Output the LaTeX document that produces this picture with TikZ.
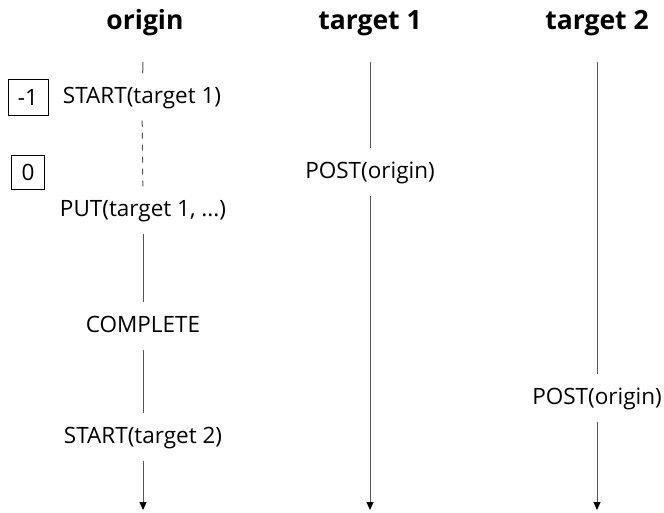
\documentclass[tikz,border=0pt]{standalone}
\usepackage{fontspec}
\setmainfont{Open Sans}
\usetikzlibrary{arrows.meta,positioning}
\definecolor{lifegray}{RGB}{85,85,85}
\tikzset{
  headlbl/.style={font=\fontsize{26.5}{30}\selectfont\bfseries},
  evlbl/.style={font=\fontsize{22.5}{26}\selectfont, inner sep=0pt,
    text height=17pt, text depth=5pt, minimum height=47pt},
  epochbox/.style={draw, line width=0.9pt, font=\fontsize{22.5}{26}\selectfont,
    inner sep=0pt, text height=16pt, text depth=0pt},
  life/.style={draw=lifegray, line width=1pt},
  lifearr/.style={life, -{Triangle[length=8pt, width=7pt, black]}},
}
\begin{document}
\begin{tikzpicture}[x=1pt, y=-1pt]
  \useasboundingbox (0,0) rectangle (664,512);
  % headers
  \node[headlbl] (horigin) at (145,23) {origin};
  \node[headlbl] (htarget1) at (370,23) {target 1};
  \node[headlbl] (htarget2) at (597,23) {target 2};

  % origin
  \coordinate (otop) at (143,62);
  \coordinate (obot) at (143,510);
  \node[evlbl] (ostart1) at (142,97) {START(target 1)};
  \node[evlbl] (oput) at (143,210) {PUT(target 1, ...)};
  \node[evlbl] (ocomplete) at (143,326) {COMPLETE};
  \node[evlbl] (ostart2) at (143,437) {START(target 2)};
  \node[epochbox, minimum width=40pt, minimum height=36pt] (em1) at (28,97) {-1};
  \node[epochbox, minimum width=33pt, minimum height=34pt] (e0) at (28,172) {0};

  % target 1
  \coordinate (t1top) at (370,62);
  \coordinate (t1bot) at (370,510);
  \node[evlbl] (t1post) at (370,172) {POST(origin)};

  % target 2
  \coordinate (t2top) at (597,62);
  \coordinate (t2bot) at (597,510);
  \node[evlbl] (t2post) at (597,398) {POST(origin)};

  % lifelines
  \draw[life] (otop) -- (ostart1);
  \draw[life, dashed, dash pattern=on 6pt off 6pt] (ostart1) -- (oput);
  \draw[life] (oput) -- (ocomplete);
  \draw[life] (ocomplete) -- (ostart2);
  \draw[lifearr] (ostart2) -- (obot);
  \draw[life] (t1top) -- (t1post);
  \draw[lifearr] (t1post) -- (t1bot);
  \draw[life] (t2top) -- (t2post);
  \draw[lifearr] (t2post) -- (t2bot);
\end{tikzpicture}
\end{document}
